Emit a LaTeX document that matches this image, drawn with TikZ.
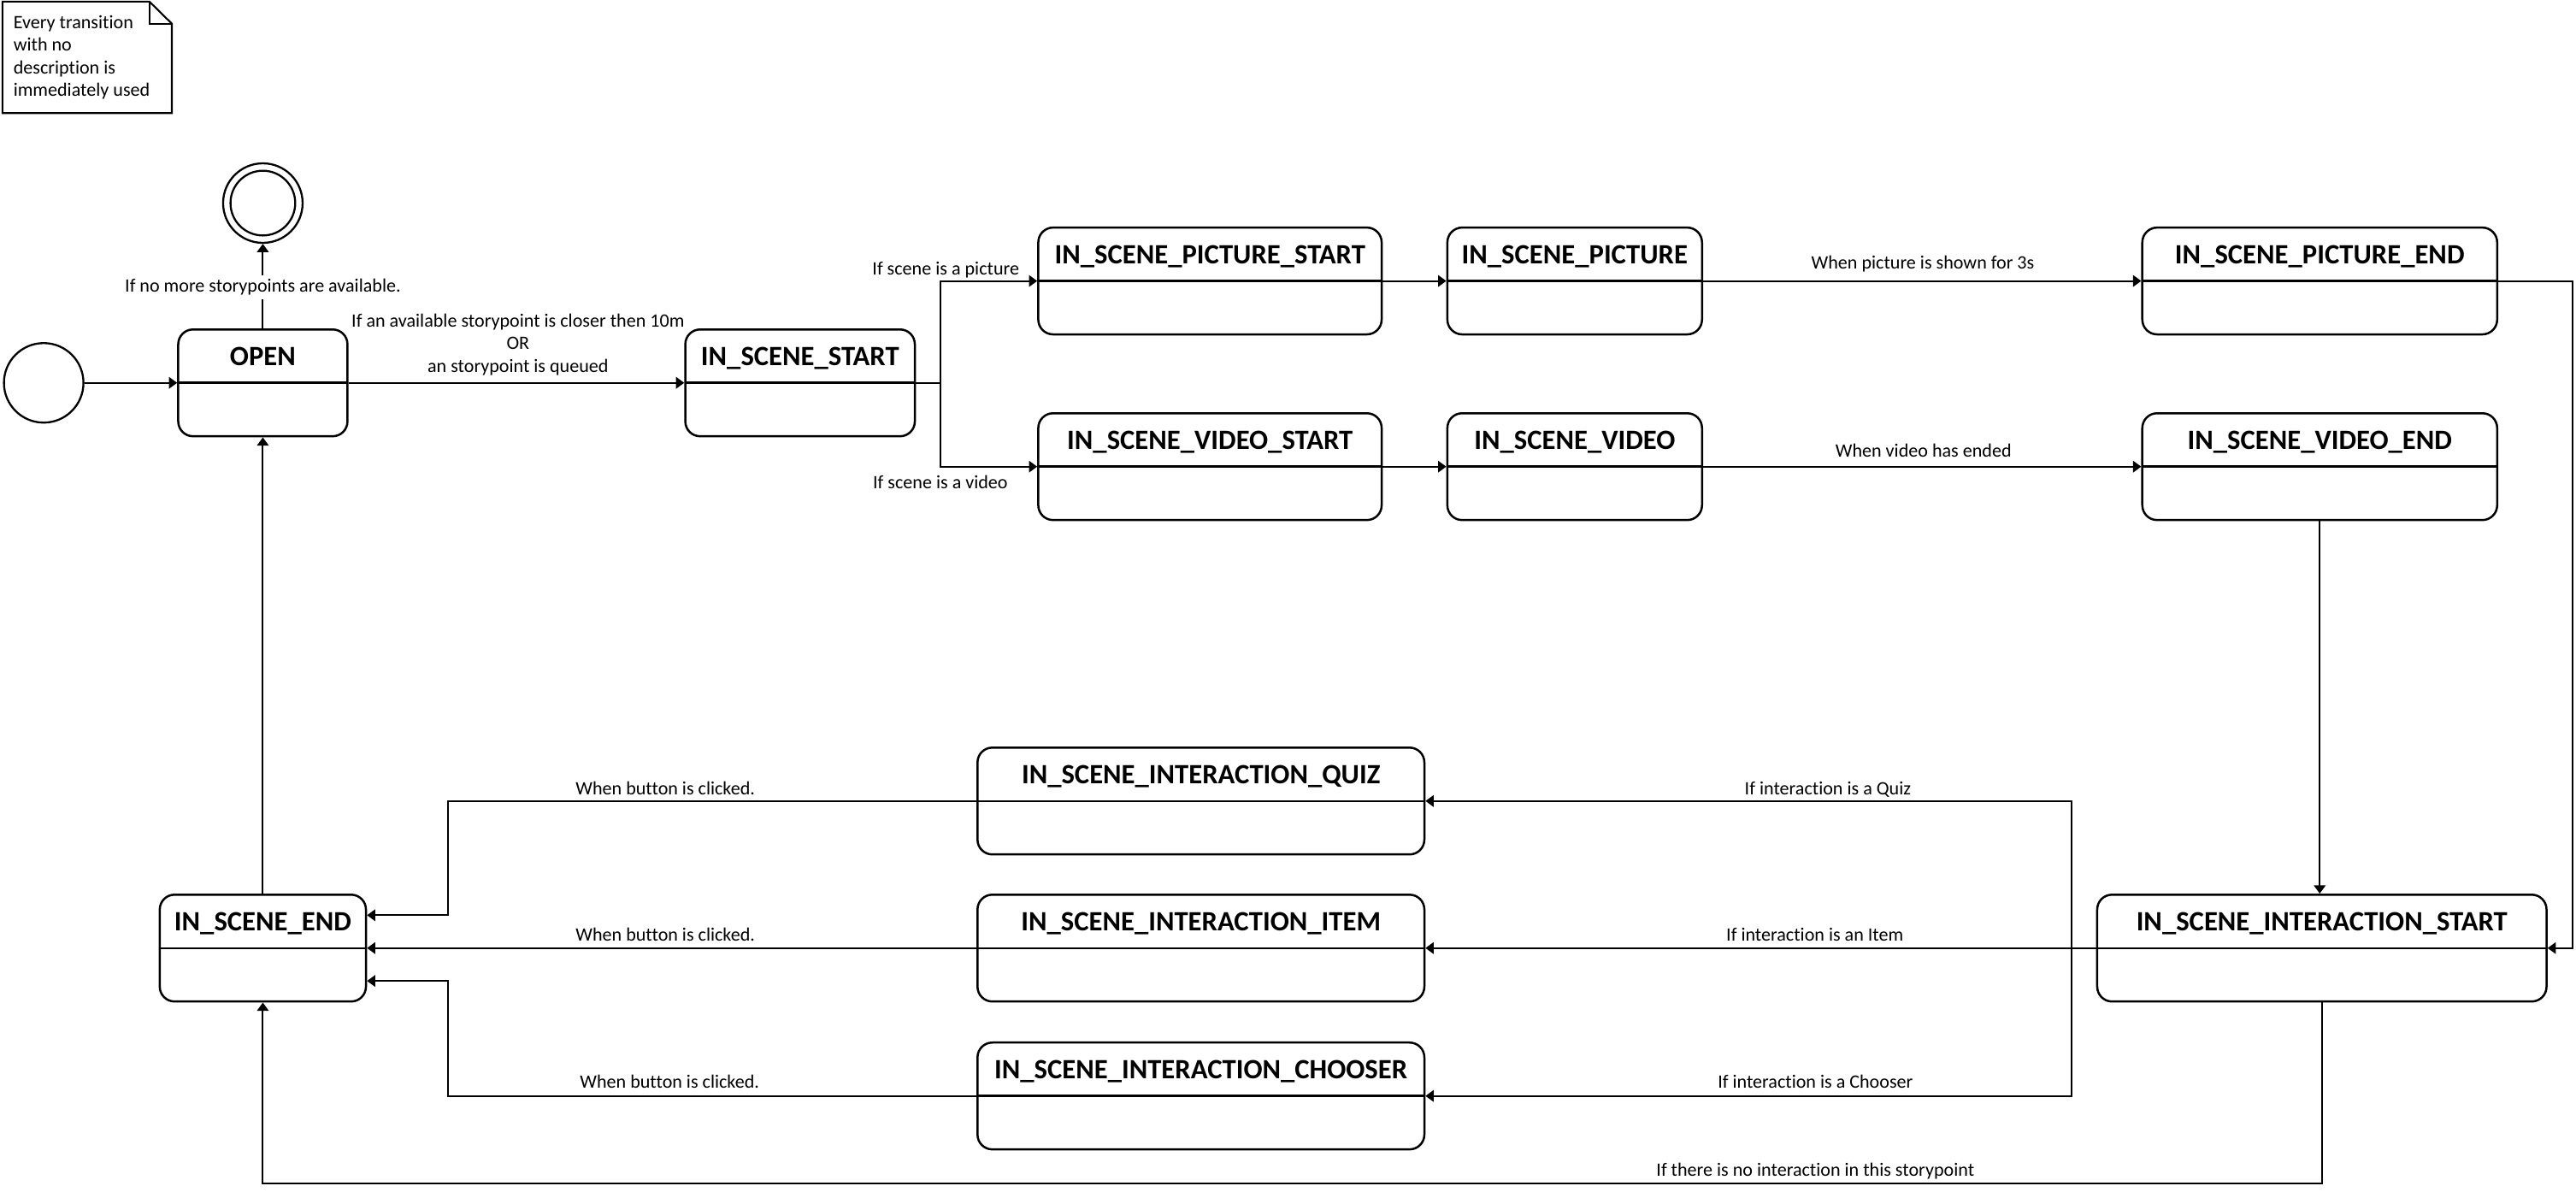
\documentclass[tikz,border=0pt]{standalone}
\usepackage{fontspec}
\setmainfont[Ligatures=NoCommon]{Carlito}
\usetikzlibrary{arrows.meta}
\newcommand\sttitlefont{\fontsize{17}{20}\selectfont\bfseries}
\newcommand\stlblfont{\fontsize{11.5}{13.75}\selectfont}
\begin{document}
\begin{tikzpicture}[x=1pt,y=-1pt,
  statebox/.style={draw, line width=1.3pt, rounded corners=9pt, minimum height=65pt,
    inner sep=0pt, text height=22pt, text depth=43pt, font=\sttitlefont,
    path picture={\draw[line width=1.3pt] (path picture bounding box.west) -- (path picture bounding box.east);}},
  conn/.style={line width=1pt, -{Triangle[length=5pt,width=7pt]}},
  plain/.style={line width=1pt},
  lbl/.style={font=\stlblfont, inner sep=0pt, anchor=base},
  pseudo/.style={circle, draw, line width=1.2pt, minimum size=48.4pt, inner sep=0pt}
]
\useasboundingbox (0,0) rectangle (1568,725.45);

% note
\draw[line width=1.1pt] (1.5,1) -- (91,1) -- (104.6,14.4) -- (104.6,68.8) -- (1.5,68.8) -- cycle;
\draw[line width=1.1pt] (91,1) -- (91,14.4) -- (104.6,14.4);
\node[lbl, anchor=base west, align=left] (note) at (8,58.6) {Every transition\\with no\\description is\\immediately used};

% pseudo states
\node[pseudo] (init) at (26.6,233) {};
\node[pseudo] (final) at (160,123.6) {};
\draw[line width=1.2pt] (final.center) circle[radius=19.7pt];

% states
\node[statebox, minimum width=103pt] (open) at (160,233) {OPEN};
\node[statebox, minimum width=139.7pt] (iss) at (487,233) {IN\_SCENE\_START};
\node[statebox, minimum width=209pt] (ps) at (736.5,171) {IN\_SCENE\_PICTURE\_START};
\node[statebox, minimum width=155pt] (pic) at (958.5,171) {IN\_SCENE\_PICTURE};
\node[statebox, minimum width=216pt] (pe) at (1412,171) {IN\_SCENE\_PICTURE\_END};
\node[statebox, minimum width=209pt] (vs) at (736.5,284) {IN\_SCENE\_VIDEO\_START};
\node[statebox, minimum width=155pt] (vid) at (958.5,284) {IN\_SCENE\_VIDEO};
\node[statebox, minimum width=216pt] (ve) at (1412,284) {IN\_SCENE\_VIDEO\_END};
\node[statebox, minimum width=273.5pt] (is) at (1413.3,577) {IN\_SCENE\_INTERACTION\_START};
\node[statebox, minimum width=125.5pt] (end) at (160,577) {IN\_SCENE\_END};
\node[statebox, minimum width=272pt] (quiz) at (731,487.5) {IN\_SCENE\_INTERACTION\_QUIZ};
\node[statebox, minimum width=272pt] (item) at (731,577) {IN\_SCENE\_INTERACTION\_ITEM};
\node[statebox, minimum width=272pt] (chooser) at (731,667) {IN\_SCENE\_INTERACTION\_CHOOSER};

% connectors
\draw[conn] (init) -- (open);
\draw[conn] (open) -- (final);
\node[lbl, fill=white, inner xsep=1pt, inner ysep=2.5pt] (lfinal) at (160,177.8) {If no more storypoints are available.};
\draw[conn] (open) -- (iss);
\node[lbl, align=center] (lopen) at (315.3,226.5) {If an available storypoint is closer then 10m\\OR\\an storypoint is queued};

\coordinate (br1) at (572.5,233);
\draw[plain] (iss.east) -- (br1);
\draw[conn] (br1) |- (ps.west);
\draw[conn] (br1) |- (vs.west);
\node[lbl] (lpic) at (575.7,167.2) {If scene is a picture};
\node[lbl] (lvid) at (572.4,297.6) {If scene is a video};

\draw[conn] (ps) -- (pic);
\draw[conn] (pic) -- (pe);
\node[lbl] (lpic3) at (1170.4,163.7) {When picture is shown for 3s};
\draw[conn] (vs) -- (vid);
\draw[conn] (vid) -- (ve);
\node[lbl] (lvidend) at (1170.8,278.3) {When video has ended};

\coordinate (rr) at (1566,171);
\draw[conn] (pe.east) -- (rr) |- (is.east);
\draw[conn] (ve.south) -- (ve.south |- is.north);

\coordinate (br2) at (1261,577);
\draw[conn] (is.west) -- (item.east);
\draw[conn] (br2) |- (quiz.east);
\draw[conn] (br2) |- (chooser.east);
\node[lbl] (lq) at (1112.6,483.5) {If interaction is a Quiz};
\node[lbl] (li) at (1104.7,572.5) {If interaction is an Item};
\node[lbl] (lc) at (1105,662.3) {If interaction is a Chooser};

\coordinate (jq) at (272.5,557);
\coordinate (jc) at (272.5,597);
\draw[conn] (quiz.west) -| (jq) -- (jq -| end.east);
\draw[conn] (item) -- (end);
\draw[conn] (chooser.west) -| (jc) -- (jc -| end.east);
\node[lbl] (lbq) at (405,483.5) {When button is clicked.};
\node[lbl] (lbi) at (405,572.8) {When button is clicked.};
\node[lbl] (lbc) at (407.6,662.3) {When button is clicked.};

\coordinate (bot) at (1413.3,720);
\draw[conn] (is.south) -- (bot) -| (end.south);
\node[lbl] (lnone) at (1105,716) {If there is no interaction in this storypoint};

\draw[conn] (end) -- (open);
\end{tikzpicture}
\end{document}
